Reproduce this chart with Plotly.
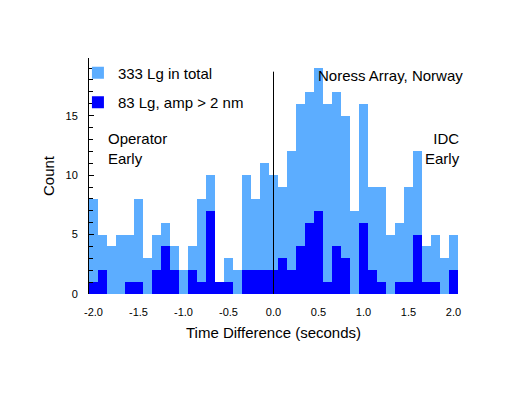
import plotly.graph_objects as go

# Bin centres (seconds), 0.1 s wide bins
bin_centers = [-2.0, -1.9, -1.8, -1.7, -1.6, -1.5, -1.4, -1.3, -1.2, -1.1,
               -1.0, -0.9, -0.8, -0.7, -0.6, -0.5, -0.4, -0.3, -0.2, -0.1,
               0.0, 0.1, 0.2, 0.3, 0.4, 0.5, 0.6, 0.7, 0.8, 0.9,
               1.0, 1.1, 1.2, 1.3, 1.4, 1.5, 1.6, 1.7, 1.8, 1.9, 2.0]

# All Lg phases (333 in total)
total_counts = [8, 5, 4, 5, 5, 8, 3, 5, 6, 4,
                2, 4, 8, 10, 1, 3, 2, 10, 8, 11,
                10, 9, 12, 16, 17, 19, 16, 17, 15, 7,
                16, 9, 9, 5, 6, 9, 12, 4, 5, 3, 5]

# Lg with amplitude > 2 nm (83)
large_counts = [1, 2, 0, 0, 1, 1, 0, 2, 4, 2,
                0, 2, 1, 7, 1, 1, 0, 2, 2, 2,
                2, 3, 2, 4, 6, 7, 1, 4, 3, 0,
                6, 2, 1, 0, 1, 1, 5, 1, 1, 0, 2]

y_tickvals = [0, 5, 10, 15]
x_tickvals = [-2.0, -1.5, -1.0, -0.5, 0.0, 0.5, 1.0, 1.5, 2.0]
x_ticktext = ["-2.0", "-1.5", "-1.0", "-0.5", "0.0", "0.5", "1.0", "1.5", "2.0"]

FONT = "Liberation Sans, Arial, Helvetica, sans-serif"
LIGHT = "#5CADFF"
DARK = "#0000FF"

fig = go.Figure()
fig.add_trace(go.Bar(
    x=bin_centers, y=total_counts, name="333 Lg in total",
    marker=dict(color=LIGHT, line=dict(width=0)), legendgroup="a",
))
fig.add_trace(go.Bar(
    x=bin_centers, y=large_counts, name="83 Lg, amp > 2 nm",
    marker=dict(color=DARK, line=dict(width=0)), legendgroup="b",
))

fig.add_shape(type="line", x0=0, x1=0, y0=0, y1=18.7, xref="x", yref="y",
              line=dict(color="black", width=1))

fig.add_annotation(x=0.47, y=18.37, xref="x", yref="y", text="Noress Array, Norway",
                   showarrow=False, xanchor="left", yanchor="middle",
                   font=dict(family=FONT, size=15, color="black"))
fig.add_annotation(x=-1.86, y=12.2, xref="x", yref="y", text="Operator<br>Early",
                   showarrow=False, xanchor="left", yanchor="middle", align="left",
                   font=dict(family=FONT, size=15, color="black"))
fig.add_annotation(x=1.011, y=12.2, xref="paper", yref="y", text="IDC<br>Early",
                   showarrow=False, xanchor="right", yanchor="middle", align="right",
                   font=dict(family=FONT, size=15, color="black"))

fig.update_layout(
    width=509, height=393,
    margin=dict(l=81, r=59, t=50, b=107),
    paper_bgcolor="white", plot_bgcolor="white",
    barmode="overlay", bargap=0,
    font=dict(family=FONT, size=11, color="black"),
    legend=dict(x=-0.03, y=1.006, xanchor="left", yanchor="top",
                bgcolor="rgba(0,0,0,0)", font=dict(family=FONT, size=15),
                tracegroupgap=7, traceorder="grouped"),
    showlegend=True,
)

fig.update_xaxes(
    range=[-2.05, 2.05], tickvals=x_tickvals, ticktext=x_ticktext,
    showline=False, showgrid=False, zeroline=False, ticks="",
    ticklabelstandoff=10, automargin=False,
    tickfont=dict(family=FONT, size=11),
    title=dict(text="Time Difference (seconds)", font=dict(family=FONT, size=15), standoff=10),
)
fig.update_yaxes(
    range=[0, 19.85], tickvals=y_tickvals,
    showline=True, linecolor="black", linewidth=1,
    showgrid=False, zeroline=False,
    ticks="inside", ticklen=5, tickcolor="black",
    minor=dict(dtick=1, ticks="inside", ticklen=4, tickcolor="black"),
    ticklabelstandoff=8, automargin=False,
    tickfont=dict(family=FONT, size=11),
    title=dict(text="Count", font=dict(family=FONT, size=15), standoff=7),
)

fig.write_html("out.html")
